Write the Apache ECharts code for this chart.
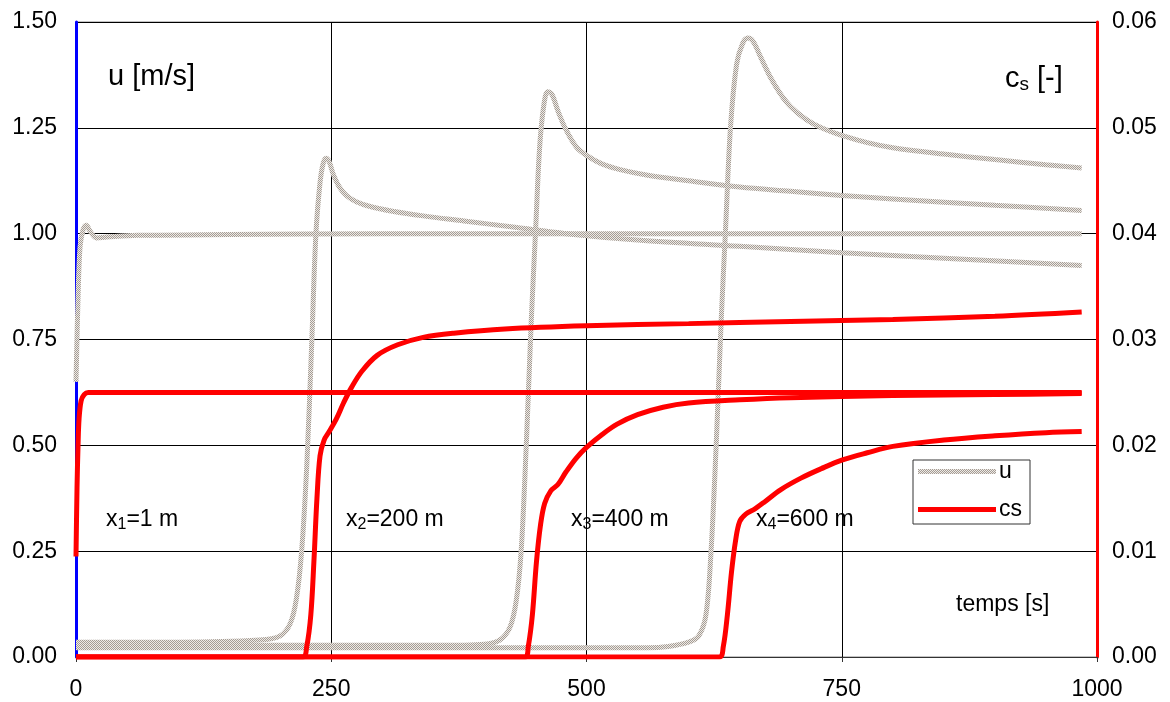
<!DOCTYPE html>
<html>
<head>
<meta charset="utf-8">
<script src="https://cdn.jsdelivr.net/npm/echarts@6/dist/echarts.min.js"></script>
<style>
html,body{margin:0;padding:0;background:#fff;}
#chart{width:1170px;height:702px;}
</style>
</head>
<body>
<div id="chart"></div>
<script>
// ---- Data ----
const xTicks = [0, 250, 500, 750, 1000];
const leftTicks = [0, 0.25, 0.5, 0.75, 1.0, 1.25, 1.5];
const rightTicks = [0, 0.01, 0.02, 0.03, 0.04, 0.05, 0.06];

// velocity u [m/s] at x1..x4
const tU1 = [0, 2, 4, 7, 10, 14, 20, 30, 60, 150, 300, 500, 750, 985];
const u1  = [0.65, 0.85, 0.97, 1.01, 1.02, 1.005, 0.99, 0.992, 0.996, 0.998, 1.0, 1.0, 1.0, 1.0];

const tU2 = [0, 100, 180, 200, 210, 216, 221, 226, 231, 235, 239, 242, 245, 248, 252, 258, 265, 275, 290, 310, 340, 380, 430, 480, 550, 650, 750, 850, 985];
const u2  = [0.035, 0.035, 0.04, 0.05, 0.08, 0.14, 0.25, 0.45, 0.75, 1.0, 1.12, 1.165, 1.178, 1.17, 1.14, 1.11, 1.09, 1.075, 1.063, 1.053, 1.042, 1.03, 1.015, 1.0, 0.985, 0.97, 0.955, 0.942, 0.925];

const tU3 = [0, 380, 400, 415, 425, 431, 436, 441, 446, 450, 454, 458, 462, 466, 472, 480, 490, 500, 515, 535, 560, 600, 650, 700, 750, 800, 900, 985];
const u3  = [0.028, 0.028, 0.03, 0.04, 0.07, 0.13, 0.25, 0.5, 0.8, 1.0, 1.2, 1.3, 1.335, 1.33, 1.29, 1.245, 1.205, 1.185, 1.165, 1.15, 1.138, 1.125, 1.11, 1.1, 1.09, 1.082, 1.067, 1.055];

const tU4 = [0, 560, 580, 600, 610, 617, 622, 627, 632, 636, 641, 647, 653, 658, 663, 670, 680, 690, 700, 715, 730, 750, 775, 800, 850, 900, 950, 985];
const u4  = [0.022, 0.022, 0.025, 0.035, 0.05, 0.1, 0.25, 0.5, 0.8, 1.0, 1.25, 1.4, 1.45, 1.462, 1.455, 1.42, 1.37, 1.33, 1.3, 1.27, 1.25, 1.232, 1.215, 1.203, 1.188, 1.175, 1.163, 1.155];

// concentration cs [-] at x1..x4
const tC1 = [0, 1, 2, 3, 5, 8, 12, 20, 985];
const c1  = [0.0095, 0.016, 0.02, 0.0225, 0.0242, 0.0248, 0.025, 0.025, 0.025];

const tC2 = [0, 222, 226, 230, 233, 236, 239, 243, 248, 255, 262, 270, 280, 295, 315, 340, 370, 420, 500, 600, 700, 800, 900, 985];
const c2  = [0, 0, 0.001, 0.004, 0.009, 0.015, 0.019, 0.0205, 0.0213, 0.0225, 0.024, 0.0255, 0.027, 0.0285, 0.0295, 0.0302, 0.0306, 0.031, 0.0313, 0.0315, 0.0317, 0.0319, 0.0322, 0.0326];

const tC3 = [0, 440, 443, 447, 451, 455, 459, 465, 472, 480, 490, 500, 515, 530, 550, 575, 600, 650, 700, 800, 900, 985];
const c3  = [0, 0, 0.001, 0.004, 0.009, 0.0125, 0.0145, 0.0157, 0.0163, 0.0175, 0.0188, 0.0198, 0.021, 0.022, 0.0229, 0.0236, 0.024, 0.0243, 0.0245, 0.0247, 0.0248, 0.0249];

const tC4 = [0, 630, 634, 638, 642, 646, 650, 656, 665, 675, 690, 710, 730, 750, 775, 800, 850, 900, 950, 985];
const c4  = [0, 0, 0.001, 0.004, 0.008, 0.011, 0.0128, 0.0135, 0.014, 0.0147, 0.0158, 0.0169, 0.0178, 0.0186, 0.0193, 0.0199, 0.0205, 0.0209, 0.0212, 0.0213];

const uSets = [[tU1, u1], [tU2, u2], [tU3, u3], [tU4, u4]];
const cSets = [[tC1, c1], [tC2, c2], [tC3, c3], [tC4, c4]];

// ---- Styling ----
function makePattern() {
  const c = document.createElement('canvas');
  c.width = 2; c.height = 2;
  const g = c.getContext('2d');
  g.fillStyle = '#eeeae6'; g.fillRect(0, 0, 2, 2);
  g.fillStyle = '#a49c94'; g.fillRect(0, 0, 1, 1); g.fillRect(1, 1, 1, 1);
  return { image: c, repeat: 'repeat' };
}
const grayPat = makePattern();

const pair = (t, v) => t.map((x, i) => [x, v[i]]);

const series = [];
uSets.forEach(([t, v]) => series.push({
  name: 'u', type: 'line', yAxisIndex: 0, data: pair(t, v),
  symbol: 'none', smooth: 0.35,
  lineStyle: { color: grayPat, width: 5 },
  itemStyle: { color: grayPat }, z: 2
}));
cSets.forEach(([t, v]) => series.push({
  name: 'cs', type: 'line', yAxisIndex: 1, data: pair(t, v),
  symbol: 'none', smooth: 0.35,
  lineStyle: { color: '#ff0000', width: 5 },
  itemStyle: { color: '#ff0000' }, z: 3
}));

const FONT = 'Liberation Sans, Arial, sans-serif';
function sublabel(main, sub, rest, x, y) {
  return {
    type: 'text', x: x, y: y, z: 10,
    style: {
      text: '{n|' + main + '}{s|' + sub + '}{n|' + rest + '}',
      verticalAlign: 'middle', fill: '#000', fontFamily: FONT,
      rich: {
        n: { fontSize: 23, fontFamily: FONT, fill: '#000' },
        s: { fontSize: 16, fontFamily: FONT, fill: '#000', padding: [10, 0, 0, 0] }
      }
    }
  };
}

const chart = echarts.init(document.getElementById('chart'));
chart.setOption({
  animation: false,
  backgroundColor: '#fff',
  grid: { left: 76, right: 73, top: 22, bottom: 45, show: true, borderColor: '#888', borderWidth: 1 },
  legend: {
    data: ['u', 'cs'], orient: 'vertical', left: 913, top: 460,
    icon: 'rect', itemWidth: 78, itemHeight: 5, itemGap: 15,
    padding: [0, 8, 3, 5], backgroundColor: '#fff',
    borderColor: '#333', borderWidth: 1, borderRadius: 0,
    textStyle: { fontSize: 23, fontFamily: FONT, color: '#000', padding: [0, 0, 0, -2] }
  },
  xAxis: {
    type: 'value', min: xTicks[0], max: xTicks[xTicks.length - 1], interval: 250,
    axisLine: { show: true, lineStyle: { color: '#333', width: 1 } },
    axisTick: { show: true, inside: false, length: 5, lineStyle: { color: '#333' } },
    axisLabel: { fontSize: 23, fontFamily: FONT, color: '#000', margin: 21, formatter: v => String(v) },
    splitLine: { show: true, lineStyle: { color: '#000', width: 1 } }
  },
  yAxis: [{
    type: 'value', min: leftTicks[0], max: leftTicks[leftTicks.length - 1], interval: 0.25,
    axisLine: { show: true, onZero: false, lineStyle: { color: '#0000ff', width: 3 } },
    axisTick: { show: false },
    axisLabel: { fontSize: 23, fontFamily: FONT, color: '#000', margin: 19, formatter: v => v.toFixed(2) },
    splitLine: { show: true, lineStyle: { color: '#000', width: 1 } }
  }, {
    type: 'value', min: rightTicks[0], max: rightTicks[rightTicks.length - 1], interval: 0.01,
    position: 'right',
    axisLine: { show: true, onZero: false, lineStyle: { color: '#ff0000', width: 3 } },
    axisTick: { show: false },
    axisLabel: { fontSize: 23, fontFamily: FONT, color: '#000', margin: 15, formatter: v => v.toFixed(2) },
    splitLine: { show: false }
  }],
  graphic: [
    { type: 'text', x: 108, y: 77, z: 10, style: { text: 'u [m/s]', fontSize: 29, fontFamily: FONT, fill: '#000', verticalAlign: 'middle' } },
    {
      type: 'text', x: 1005, y: 79, z: 10,
      style: {
        text: '{n|c}{s|s}{n| [-]}', verticalAlign: 'middle', fill: '#000', fontFamily: FONT,
        rich: {
          n: { fontSize: 29, fontFamily: FONT, fill: '#000' },
          s: { fontSize: 19, fontFamily: FONT, fill: '#000', padding: [12, 0, 0, 0] }
        }
      }
    },
    sublabel('x', '1', '=1 m', 106, 520),
    sublabel('x', '2', '=200 m', 346, 520),
    sublabel('x', '3', '=400 m', 571, 520),
    sublabel('x', '4', '=600 m', 756, 520),
    { type: 'text', x: 956, y: 605, z: 10, style: { text: 'temps [s]', fontSize: 23, fontFamily: FONT, fill: '#000', verticalAlign: 'middle' } }
  ],
  series: series
});
</script>
</body>
</html>
